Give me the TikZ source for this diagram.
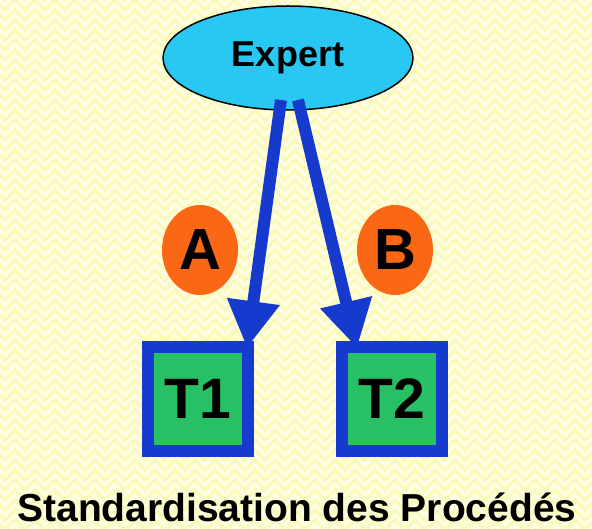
\documentclass[tikz,border=0pt]{standalone}
\usepackage{fontspec}
\setmainfont{Liberation Sans}
\usetikzlibrary{arrows.meta,shapes.geometric,decorations.pathmorphing}
\definecolor{bgyellow}{RGB}{250,250,188}
\definecolor{bgstripe}{RGB}{255,255,232}
\definecolor{expertcyan}{RGB}{40,200,242}
\definecolor{arrowblue}{RGB}{22,58,205}
\definecolor{boxgreen}{RGB}{40,192,100}
\definecolor{circorange}{RGB}{250,104,22}
\tikzset{
  expertnode/.style={ellipse, draw=black, line width=1.5pt, fill=expertcyan,
    minimum width=250pt, minimum height=104pt, inner sep=0pt,
    font=\bfseries\fontsize{36}{40}\selectfont},
  taskbox/.style={rectangle, draw=arrowblue, line width=12pt, fill=boxgreen,
    minimum width=100pt, minimum height=104pt, inner sep=0pt,
    font=\bfseries\fontsize{57}{60}\selectfont},
  labelblob/.style={ellipse, fill=circorange, minimum width=76pt, minimum height=90pt,
    inner sep=0pt, font=\bfseries\fontsize{58}{60}\selectfont},
  bigarrow/.style={draw=arrowblue, line width=12pt,
    -{Triangle[length=47pt,width=50pt,fill=arrowblue]}, shorten >=0pt},
  bgstripes/.style={draw=bgstripe, line width=3pt,
    decorate, decoration={zigzag, segment length=20pt, amplitude=5pt}},
  titletext/.style={anchor=base, inner sep=1pt, font=\bfseries\fontsize{39}{42}\selectfont}
}
\begin{document}
\begin{tikzpicture}[x=1pt,y=-1pt]
  \useasboundingbox (0,0) rectangle (592,529);
  \fill[bgyellow] (0,0) rectangle (592,529);
  \begin{scope}
    \clip (0,0) rectangle (592,529);
    \foreach \r in {0,...,55} {
      \draw[bgstripes] (-10,\r*10) -- (610,\r*10);
    }
  \end{scope}

  \node[expertnode] (expert) at (288,58) {Expert};
  \node[taskbox] (t1) at (198,399) {T1};
  \node[taskbox] (t2) at (392,399) {T2};
  \node[labelblob] (a) at (200,250) {A};
  \node[labelblob] (b) at (395,250) {B};

  \coordinate (s1) at (281,100);
  \coordinate (s2) at (298,100);
  \coordinate (e1) at (247,348);
  \coordinate (e2) at (357,348);
  \draw[bigarrow] (s1) -- (e1);
  \draw[bigarrow] (s2) -- (e2);

  \node[titletext] (title) at (297,521) {Standardisation des Procédés};
\end{tikzpicture}
\end{document}
